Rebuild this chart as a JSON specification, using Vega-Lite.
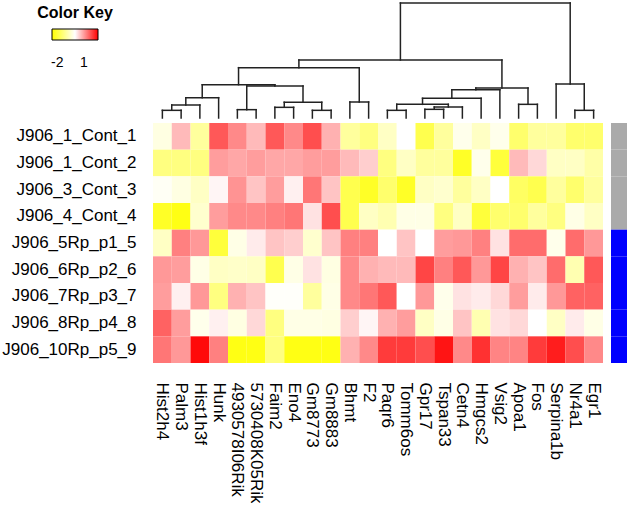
{
  "$schema": "https://vega.github.io/schema/vega-lite/v6.json",
  "padding": {"left": 1, "top": 1, "right": 1, "bottom": 0},
  "config": {"view": {"stroke": null}, "font": "Liberation Sans"},
  "columns": 2,
  "align": "each",
  "bounds": "flush",
  "spacing": {"row": 5, "column": 8},
  "resolve": {"scale": {"color": "independent"}, "legend": {"color": "independent"}},
  "datasets": {
    "dend": [
      {"x":0,"x2":1,"y":23,"y2":23},{"x":0,"x2":0,"y":0,"y2":23},{"x":1,"x2":1,"y":0,"y2":23},
      {"x":0.5,"x2":2,"y":39,"y2":39},{"x":0.5,"x2":0.5,"y":23,"y2":39},{"x":2,"x2":2,"y":0,"y2":39},
      {"x":1.25,"x2":3,"y":61,"y2":61},{"x":1.25,"x2":1.25,"y":39,"y2":61},{"x":3,"x2":3,"y":0,"y2":61},
      {"x":4,"x2":5,"y":25,"y2":25},{"x":4,"x2":4,"y":0,"y2":25},{"x":5,"x2":5,"y":0,"y2":25},
      {"x":6,"x2":7,"y":32,"y2":32},{"x":6,"x2":6,"y":0,"y2":32},{"x":7,"x2":7,"y":0,"y2":32},
      {"x":8,"x2":9,"y":23,"y2":23},{"x":8,"x2":8,"y":0,"y2":23},{"x":9,"x2":9,"y":0,"y2":23},
      {"x":6.5,"x2":8.5,"y":47,"y2":47},{"x":6.5,"x2":6.5,"y":32,"y2":47},{"x":8.5,"x2":8.5,"y":23,"y2":47},
      {"x":4.5,"x2":7.5,"y":96,"y2":96},{"x":4.5,"x2":4.5,"y":25,"y2":96},{"x":7.5,"x2":7.5,"y":47,"y2":96},
      {"x":2.125,"x2":6,"y":100,"y2":100},{"x":2.125,"x2":2.125,"y":61,"y2":100},{"x":6,"x2":6,"y":96,"y2":100},
      {"x":10,"x2":11,"y":48,"y2":48},{"x":10,"x2":10,"y":0,"y2":48},{"x":11,"x2":11,"y":0,"y2":48},
      {"x":4.0625,"x2":10.5,"y":151,"y2":151},{"x":4.0625,"x2":4.0625,"y":100,"y2":151},{"x":10.5,"x2":10.5,"y":48,"y2":151},
      {"x":12,"x2":13,"y":23,"y2":23},{"x":12,"x2":12,"y":0,"y2":23},{"x":13,"x2":13,"y":0,"y2":23},
      {"x":14,"x2":15,"y":26,"y2":26},{"x":14,"x2":14,"y":0,"y2":26},{"x":15,"x2":15,"y":0,"y2":26},
      {"x":14.5,"x2":16,"y":33,"y2":33},{"x":14.5,"x2":14.5,"y":26,"y2":33},{"x":16,"x2":16,"y":0,"y2":33},
      {"x":12.5,"x2":15.25,"y":41,"y2":41},{"x":12.5,"x2":12.5,"y":23,"y2":41},{"x":15.25,"x2":15.25,"y":33,"y2":41},
      {"x":13.875,"x2":17,"y":59,"y2":59},{"x":13.875,"x2":13.875,"y":41,"y2":59},{"x":17,"x2":17,"y":0,"y2":59},
      {"x":15.4375,"x2":18,"y":85,"y2":85},{"x":15.4375,"x2":15.4375,"y":59,"y2":85},{"x":18,"x2":18,"y":0,"y2":85},
      {"x":19,"x2":20,"y":41,"y2":41},{"x":19,"x2":19,"y":0,"y2":41},{"x":20,"x2":20,"y":0,"y2":41},
      {"x":16.71875,"x2":19.5,"y":90,"y2":90},{"x":16.71875,"x2":16.71875,"y":85,"y2":90},{"x":19.5,"x2":19.5,"y":41,"y2":90},
      {"x":7.28125,"x2":18.109375,"y":174,"y2":174},{"x":7.28125,"x2":7.28125,"y":151,"y2":174},{"x":18.109375,"x2":18.109375,"y":90,"y2":174},
      {"x":22,"x2":23,"y":23,"y2":23},{"x":22,"x2":22,"y":0,"y2":23},{"x":23,"x2":23,"y":0,"y2":23},
      {"x":21,"x2":22.5,"y":102,"y2":102},{"x":21,"x2":21,"y":0,"y2":102},{"x":22.5,"x2":22.5,"y":23,"y2":102},
      {"x":12.6953,"x2":21.75,"y":345,"y2":345},{"x":12.6953,"x2":12.6953,"y":174,"y2":345},{"x":21.75,"x2":21.75,"y":102,"y2":345}
    ],
    "side": [
      {"sample":"J906_1_Cont_1","group":"Cont"},
      {"sample":"J906_1_Cont_2","group":"Cont"},
      {"sample":"J906_3_Cont_3","group":"Cont"},
      {"sample":"J906_4_Cont_4","group":"Cont"},
      {"sample":"J906_5Rp_p1_5","group":"Rp"},
      {"sample":"J906_6Rp_p2_6","group":"Rp"},
      {"sample":"J906_7Rp_p3_7","group":"Rp"},
      {"sample":"J906_8Rp_p4_8","group":"Rp"},
      {"sample":"J906_10Rp_p5_9","group":"Rp"}
    ],
    "cells": [
      {"sample":"J906_1_Cont_1","gene":"Hist2h4","value":-0.3},
      {"sample":"J906_1_Cont_1","gene":"Palm3","value":0.7},
      {"sample":"J906_1_Cont_1","gene":"Hist1h3f","value":-1.0},
      {"sample":"J906_1_Cont_1","gene":"Hunk","value":1.7},
      {"sample":"J906_1_Cont_1","gene":"4930578I06Rik","value":1.2},
      {"sample":"J906_1_Cont_1","gene":"5730408K05Rik","value":0.7},
      {"sample":"J906_1_Cont_1","gene":"Faim2","value":1.7},
      {"sample":"J906_1_Cont_1","gene":"Eno4","value":1.2},
      {"sample":"J906_1_Cont_1","gene":"Gm8773","value":1.8},
      {"sample":"J906_1_Cont_1","gene":"Gm8883","value":0.8},
      {"sample":"J906_1_Cont_1","gene":"Bhmt","value":-1.0},
      {"sample":"J906_1_Cont_1","gene":"F2","value":-1.3},
      {"sample":"J906_1_Cont_1","gene":"Paqr6","value":-0.6},
      {"sample":"J906_1_Cont_1","gene":"Tomm6os","value":0},
      {"sample":"J906_1_Cont_1","gene":"Gpr17","value":-1.8},
      {"sample":"J906_1_Cont_1","gene":"Tspan33","value":-1.0},
      {"sample":"J906_1_Cont_1","gene":"Cetn4","value":-0.2},
      {"sample":"J906_1_Cont_1","gene":"Hmgcs2","value":-0.6},
      {"sample":"J906_1_Cont_1","gene":"Vsig2","value":-0.2},
      {"sample":"J906_1_Cont_1","gene":"Apoa1","value":-1.5},
      {"sample":"J906_1_Cont_1","gene":"Fos","value":-1.0},
      {"sample":"J906_1_Cont_1","gene":"Serpina1b","value":-1.0},
      {"sample":"J906_1_Cont_1","gene":"Nr4a1","value":-1.5},
      {"sample":"J906_1_Cont_1","gene":"Egr1","value":-1.5},

      {"sample":"J906_1_Cont_2","gene":"Hist2h4","value":-1.3},
      {"sample":"J906_1_Cont_2","gene":"Palm3","value":-1.3},
      {"sample":"J906_1_Cont_2","gene":"Hist1h3f","value":-1.3},
      {"sample":"J906_1_Cont_2","gene":"Hunk","value":1.0},
      {"sample":"J906_1_Cont_2","gene":"4930578I06Rik","value":0.9},
      {"sample":"J906_1_Cont_2","gene":"5730408K05Rik","value":1.0},
      {"sample":"J906_1_Cont_2","gene":"Faim2","value":0.9},
      {"sample":"J906_1_Cont_2","gene":"Eno4","value":0.9},
      {"sample":"J906_1_Cont_2","gene":"Gm8773","value":1.0},
      {"sample":"J906_1_Cont_2","gene":"Gm8883","value":1.0},
      {"sample":"J906_1_Cont_2","gene":"Bhmt","value":0.7},
      {"sample":"J906_1_Cont_2","gene":"F2","value":0.5},
      {"sample":"J906_1_Cont_2","gene":"Paqr6","value":-1.3},
      {"sample":"J906_1_Cont_2","gene":"Tomm6os","value":-0.6},
      {"sample":"J906_1_Cont_2","gene":"Gpr17","value":-1.0},
      {"sample":"J906_1_Cont_2","gene":"Tspan33","value":-1.0},
      {"sample":"J906_1_Cont_2","gene":"Cetn4","value":-2.2},
      {"sample":"J906_1_Cont_2","gene":"Hmgcs2","value":-0.2},
      {"sample":"J906_1_Cont_2","gene":"Vsig2","value":-2.0},
      {"sample":"J906_1_Cont_2","gene":"Apoa1","value":0.7},
      {"sample":"J906_1_Cont_2","gene":"Fos","value":0.4},
      {"sample":"J906_1_Cont_2","gene":"Serpina1b","value":-0.6},
      {"sample":"J906_1_Cont_2","gene":"Nr4a1","value":-0.6},
      {"sample":"J906_1_Cont_2","gene":"Egr1","value":-0.9},

      {"sample":"J906_3_Cont_3","gene":"Hist2h4","value":-0.1},
      {"sample":"J906_3_Cont_3","gene":"Palm3","value":-0.3},
      {"sample":"J906_3_Cont_3","gene":"Hist1h3f","value":-0.6},
      {"sample":"J906_3_Cont_3","gene":"Hunk","value":0.1},
      {"sample":"J906_3_Cont_3","gene":"4930578I06Rik","value":1.1},
      {"sample":"J906_3_Cont_3","gene":"5730408K05Rik","value":0.6},
      {"sample":"J906_3_Cont_3","gene":"Faim2","value":1.0},
      {"sample":"J906_3_Cont_3","gene":"Eno4","value":0.15},
      {"sample":"J906_3_Cont_3","gene":"Gm8773","value":1.4},
      {"sample":"J906_3_Cont_3","gene":"Gm8883","value":0.6},
      {"sample":"J906_3_Cont_3","gene":"Bhmt","value":-1.8},
      {"sample":"J906_3_Cont_3","gene":"F2","value":-2.2},
      {"sample":"J906_3_Cont_3","gene":"Paqr6","value":-1.5},
      {"sample":"J906_3_Cont_3","gene":"Tomm6os","value":-2.2},
      {"sample":"J906_3_Cont_3","gene":"Gpr17","value":-0.6},
      {"sample":"J906_3_Cont_3","gene":"Tspan33","value":-0.5},
      {"sample":"J906_3_Cont_3","gene":"Cetn4","value":-1.0},
      {"sample":"J906_3_Cont_3","gene":"Hmgcs2","value":-0.6},
      {"sample":"J906_3_Cont_3","gene":"Vsig2","value":0},
      {"sample":"J906_3_Cont_3","gene":"Apoa1","value":-1.6},
      {"sample":"J906_3_Cont_3","gene":"Fos","value":-1.8},
      {"sample":"J906_3_Cont_3","gene":"Serpina1b","value":-1.0},
      {"sample":"J906_3_Cont_3","gene":"Nr4a1","value":-1.5},
      {"sample":"J906_3_Cont_3","gene":"Egr1","value":-1.0},

      {"sample":"J906_4_Cont_4","gene":"Hist2h4","value":-2.2},
      {"sample":"J906_4_Cont_4","gene":"Palm3","value":-2.4},
      {"sample":"J906_4_Cont_4","gene":"Hist1h3f","value":-0.5},
      {"sample":"J906_4_Cont_4","gene":"Hunk","value":1.0},
      {"sample":"J906_4_Cont_4","gene":"4930578I06Rik","value":1.2},
      {"sample":"J906_4_Cont_4","gene":"5730408K05Rik","value":1.2},
      {"sample":"J906_4_Cont_4","gene":"Faim2","value":1.3},
      {"sample":"J906_4_Cont_4","gene":"Eno4","value":1.4},
      {"sample":"J906_4_Cont_4","gene":"Gm8773","value":0.3},
      {"sample":"J906_4_Cont_4","gene":"Gm8883","value":1.8},
      {"sample":"J906_4_Cont_4","gene":"Bhmt","value":-1.8},
      {"sample":"J906_4_Cont_4","gene":"F2","value":-0.6},
      {"sample":"J906_4_Cont_4","gene":"Paqr6","value":-0.8},
      {"sample":"J906_4_Cont_4","gene":"Tomm6os","value":-0.25},
      {"sample":"J906_4_Cont_4","gene":"Gpr17","value":-0.25},
      {"sample":"J906_4_Cont_4","gene":"Tspan33","value":-1.3},
      {"sample":"J906_4_Cont_4","gene":"Cetn4","value":-0.6},
      {"sample":"J906_4_Cont_4","gene":"Hmgcs2","value":-2.0},
      {"sample":"J906_4_Cont_4","gene":"Vsig2","value":-1.5},
      {"sample":"J906_4_Cont_4","gene":"Apoa1","value":-1.5},
      {"sample":"J906_4_Cont_4","gene":"Fos","value":-1.0},
      {"sample":"J906_4_Cont_4","gene":"Serpina1b","value":-1.3},
      {"sample":"J906_4_Cont_4","gene":"Nr4a1","value":-0.25},
      {"sample":"J906_4_Cont_4","gene":"Egr1","value":-0.6},

      {"sample":"J906_5Rp_p1_5","gene":"Hist2h4","value":-0.6},
      {"sample":"J906_5Rp_p1_5","gene":"Palm3","value":1.3},
      {"sample":"J906_5Rp_p1_5","gene":"Hist1h3f","value":1.05},
      {"sample":"J906_5Rp_p1_5","gene":"Hunk","value":-2.0},
      {"sample":"J906_5Rp_p1_5","gene":"4930578I06Rik","value":-0.25},
      {"sample":"J906_5Rp_p1_5","gene":"5730408K05Rik","value":0.2},
      {"sample":"J906_5Rp_p1_5","gene":"Faim2","value":0.6},
      {"sample":"J906_5Rp_p1_5","gene":"Eno4","value":0.5},
      {"sample":"J906_5Rp_p1_5","gene":"Gm8773","value":-0.5},
      {"sample":"J906_5Rp_p1_5","gene":"Gm8883","value":0.6},
      {"sample":"J906_5Rp_p1_5","gene":"Bhmt","value":1.3},
      {"sample":"J906_5Rp_p1_5","gene":"F2","value":1.3},
      {"sample":"J906_5Rp_p1_5","gene":"Paqr6","value":0},
      {"sample":"J906_5Rp_p1_5","gene":"Tomm6os","value":0.6},
      {"sample":"J906_5Rp_p1_5","gene":"Gpr17","value":0},
      {"sample":"J906_5Rp_p1_5","gene":"Tspan33","value":1.0},
      {"sample":"J906_5Rp_p1_5","gene":"Cetn4","value":1.05},
      {"sample":"J906_5Rp_p1_5","gene":"Hmgcs2","value":1.3},
      {"sample":"J906_5Rp_p1_5","gene":"Vsig2","value":0.3},
      {"sample":"J906_5Rp_p1_5","gene":"Apoa1","value":1.5},
      {"sample":"J906_5Rp_p1_5","gene":"Fos","value":1.5},
      {"sample":"J906_5Rp_p1_5","gene":"Serpina1b","value":-0.2},
      {"sample":"J906_5Rp_p1_5","gene":"Nr4a1","value":1.5},
      {"sample":"J906_5Rp_p1_5","gene":"Egr1","value":1.05},

      {"sample":"J906_6Rp_p2_6","gene":"Hist2h4","value":1.05},
      {"sample":"J906_6Rp_p2_6","gene":"Palm3","value":1.0},
      {"sample":"J906_6Rp_p2_6","gene":"Hist1h3f","value":-0.25},
      {"sample":"J906_6Rp_p2_6","gene":"Hunk","value":-0.6},
      {"sample":"J906_6Rp_p2_6","gene":"4930578I06Rik","value":-0.55},
      {"sample":"J906_6Rp_p2_6","gene":"5730408K05Rik","value":-0.6},
      {"sample":"J906_6Rp_p2_6","gene":"Faim2","value":-1.8},
      {"sample":"J906_6Rp_p2_6","gene":"Eno4","value":-0.25},
      {"sample":"J906_6Rp_p2_6","gene":"Gm8773","value":0.3},
      {"sample":"J906_6Rp_p2_6","gene":"Gm8883","value":-0.3},
      {"sample":"J906_6Rp_p2_6","gene":"Bhmt","value":1.2},
      {"sample":"J906_6Rp_p2_6","gene":"F2","value":0.8},
      {"sample":"J906_6Rp_p2_6","gene":"Paqr6","value":0.7},
      {"sample":"J906_6Rp_p2_6","gene":"Tomm6os","value":0.7},
      {"sample":"J906_6Rp_p2_6","gene":"Gpr17","value":1.9},
      {"sample":"J906_6Rp_p2_6","gene":"Tspan33","value":1.3},
      {"sample":"J906_6Rp_p2_6","gene":"Cetn4","value":1.7},
      {"sample":"J906_6Rp_p2_6","gene":"Hmgcs2","value":1.05},
      {"sample":"J906_6Rp_p2_6","gene":"Vsig2","value":1.9},
      {"sample":"J906_6Rp_p2_6","gene":"Apoa1","value":0.8},
      {"sample":"J906_6Rp_p2_6","gene":"Fos","value":0.6},
      {"sample":"J906_6Rp_p2_6","gene":"Serpina1b","value":1.5},
      {"sample":"J906_6Rp_p2_6","gene":"Nr4a1","value":-0.8},
      {"sample":"J906_6Rp_p2_6","gene":"Egr1","value":1.7},

      {"sample":"J906_7Rp_p3_7","gene":"Hist2h4","value":1.0},
      {"sample":"J906_7Rp_p3_7","gene":"Palm3","value":0.15},
      {"sample":"J906_7Rp_p3_7","gene":"Hist1h3f","value":1.05},
      {"sample":"J906_7Rp_p3_7","gene":"Hunk","value":-1.3},
      {"sample":"J906_7Rp_p3_7","gene":"4930578I06Rik","value":0.8},
      {"sample":"J906_7Rp_p3_7","gene":"5730408K05Rik","value":0.6},
      {"sample":"J906_7Rp_p3_7","gene":"Faim2","value":-0.05},
      {"sample":"J906_7Rp_p3_7","gene":"Eno4","value":-0.05},
      {"sample":"J906_7Rp_p3_7","gene":"Gm8773","value":-1.0},
      {"sample":"J906_7Rp_p3_7","gene":"Gm8883","value":-0.25},
      {"sample":"J906_7Rp_p3_7","gene":"Bhmt","value":1.2},
      {"sample":"J906_7Rp_p3_7","gene":"F2","value":1.4},
      {"sample":"J906_7Rp_p3_7","gene":"Paqr6","value":1.7},
      {"sample":"J906_7Rp_p3_7","gene":"Tomm6os","value":0},
      {"sample":"J906_7Rp_p3_7","gene":"Gpr17","value":1.05},
      {"sample":"J906_7Rp_p3_7","gene":"Tspan33","value":-0.2},
      {"sample":"J906_7Rp_p3_7","gene":"Cetn4","value":0.3},
      {"sample":"J906_7Rp_p3_7","gene":"Hmgcs2","value":0.2},
      {"sample":"J906_7Rp_p3_7","gene":"Vsig2","value":0.4},
      {"sample":"J906_7Rp_p3_7","gene":"Apoa1","value":1.0},
      {"sample":"J906_7Rp_p3_7","gene":"Fos","value":0.2},
      {"sample":"J906_7Rp_p3_7","gene":"Serpina1b","value":1.05},
      {"sample":"J906_7Rp_p3_7","gene":"Nr4a1","value":1.6},
      {"sample":"J906_7Rp_p3_7","gene":"Egr1","value":1.6},

      {"sample":"J906_8Rp_p4_8","gene":"Hist2h4","value":1.6},
      {"sample":"J906_8Rp_p4_8","gene":"Palm3","value":1.0},
      {"sample":"J906_8Rp_p4_8","gene":"Hist1h3f","value":-0.2},
      {"sample":"J906_8Rp_p4_8","gene":"Hunk","value":0.15},
      {"sample":"J906_8Rp_p4_8","gene":"4930578I06Rik","value":-0.3},
      {"sample":"J906_8Rp_p4_8","gene":"5730408K05Rik","value":0.4},
      {"sample":"J906_8Rp_p4_8","gene":"Faim2","value":-1.3},
      {"sample":"J906_8Rp_p4_8","gene":"Eno4","value":-0.25},
      {"sample":"J906_8Rp_p4_8","gene":"Gm8773","value":-0.25},
      {"sample":"J906_8Rp_p4_8","gene":"Gm8883","value":-0.3},
      {"sample":"J906_8Rp_p4_8","gene":"Bhmt","value":0.5},
      {"sample":"J906_8Rp_p4_8","gene":"F2","value":0.1},
      {"sample":"J906_8Rp_p4_8","gene":"Paqr6","value":0.8},
      {"sample":"J906_8Rp_p4_8","gene":"Tomm6os","value":1.0},
      {"sample":"J906_8Rp_p4_8","gene":"Gpr17","value":-0.6},
      {"sample":"J906_8Rp_p4_8","gene":"Tspan33","value":-0.25},
      {"sample":"J906_8Rp_p4_8","gene":"Cetn4","value":0.6},
      {"sample":"J906_8Rp_p4_8","gene":"Hmgcs2","value":-0.8},
      {"sample":"J906_8Rp_p4_8","gene":"Vsig2","value":0.3},
      {"sample":"J906_8Rp_p4_8","gene":"Apoa1","value":0.4},
      {"sample":"J906_8Rp_p4_8","gene":"Fos","value":0},
      {"sample":"J906_8Rp_p4_8","gene":"Serpina1b","value":-0.6},
      {"sample":"J906_8Rp_p4_8","gene":"Nr4a1","value":0.2},
      {"sample":"J906_8Rp_p4_8","gene":"Egr1","value":-0.25},

      {"sample":"J906_10Rp_p5_9","gene":"Hist2h4","value":1.4},
      {"sample":"J906_10Rp_p5_9","gene":"Palm3","value":1.05},
      {"sample":"J906_10Rp_p5_9","gene":"Hist1h3f","value":2.5},
      {"sample":"J906_10Rp_p5_9","gene":"Hunk","value":1.3},
      {"sample":"J906_10Rp_p5_9","gene":"4930578I06Rik","value":-2.4},
      {"sample":"J906_10Rp_p5_9","gene":"5730408K05Rik","value":-2.4},
      {"sample":"J906_10Rp_p5_9","gene":"Faim2","value":-1.3},
      {"sample":"J906_10Rp_p5_9","gene":"Eno4","value":-2.4},
      {"sample":"J906_10Rp_p5_9","gene":"Gm8773","value":-2.4},
      {"sample":"J906_10Rp_p5_9","gene":"Gm8883","value":-2.4},
      {"sample":"J906_10Rp_p5_9","gene":"Bhmt","value":0.8},
      {"sample":"J906_10Rp_p5_9","gene":"F2","value":1.2},
      {"sample":"J906_10Rp_p5_9","gene":"Paqr6","value":2.0},
      {"sample":"J906_10Rp_p5_9","gene":"Tomm6os","value":2.0},
      {"sample":"J906_10Rp_p5_9","gene":"Gpr17","value":1.8},
      {"sample":"J906_10Rp_p5_9","gene":"Tspan33","value":2.4},
      {"sample":"J906_10Rp_p5_9","gene":"Cetn4","value":1.2},
      {"sample":"J906_10Rp_p5_9","gene":"Hmgcs2","value":2.1},
      {"sample":"J906_10Rp_p5_9","gene":"Vsig2","value":1.25},
      {"sample":"J906_10Rp_p5_9","gene":"Apoa1","value":1.25},
      {"sample":"J906_10Rp_p5_9","gene":"Fos","value":2.0},
      {"sample":"J906_10Rp_p5_9","gene":"Serpina1b","value":2.3},
      {"sample":"J906_10Rp_p5_9","gene":"Nr4a1","value":1.8},
      {"sample":"J906_10Rp_p5_9","gene":"Egr1","value":1.2}
    ]
  },
  "concat": [
    {
      "width": 450,
      "height": 115,
      "data": {"name": "dend"},
      "mark": {"type": "rule", "color": "#222222", "strokeWidth": 1.5, "strokeCap": "square"},
      "encoding": {
        "x": {"field": "x", "type": "quantitative", "scale": {"domain": [-0.5, 23.5], "nice": false, "zero": false}, "axis": null},
        "x2": {"field": "x2"},
        "y": {"field": "y", "type": "quantitative", "scale": {"domain": [0, 345], "nice": false}, "axis": null},
        "y2": {"field": "y2"}
      }
    },
    {
      "width": 16,
      "height": 115,
      "data": {"values": []},
      "mark": "rule",
      "encoding": {}
    },
    {
      "width": 450,
      "height": 240,
      "data": {"name": "cells"},
      "mark": {"type": "rect"},
      "encoding": {
        "x": {
          "field": "gene", "type": "nominal",
          "sort": ["Hist2h4","Palm3","Hist1h3f","Hunk","4930578I06Rik","5730408K05Rik","Faim2","Eno4","Gm8773","Gm8883","Bhmt","F2","Paqr6","Tomm6os","Gpr17","Tspan33","Cetn4","Hmgcs2","Vsig2","Apoa1","Fos","Serpina1b","Nr4a1","Egr1"],
          "scale": {"paddingInner": 0, "paddingOuter": 0},
          "axis": {"title": null, "orient": "bottom", "labelAngle": 90, "ticks": false, "domain": false, "labelPadding": 19, "labelFontSize": 17, "labelColor": "#000000", "labelOverlap": false, "labelLimit": 0}
        },
        "y": {
          "field": "sample", "type": "nominal",
          "sort": ["J906_1_Cont_1","J906_1_Cont_2","J906_3_Cont_3","J906_4_Cont_4","J906_5Rp_p1_5","J906_6Rp_p2_6","J906_7Rp_p3_7","J906_8Rp_p4_8","J906_10Rp_p5_9"],
          "scale": {"paddingInner": 0, "paddingOuter": 0},
          "axis": {"title": null, "ticks": false, "domain": false, "labelPadding": 17, "labelFontSize": 17, "labelColor": "#000000", "labelLimit": 0, "labelOverlap": false}
        },
        "color": {
          "field": "value", "type": "quantitative",
          "scale": {"domain": [-2.6, 0, 2.6], "range": ["#FFFF00", "#FFFFFF", "#FF0000"], "interpolate": "rgb"},
          "legend": {
            "orient": "none", "legendX": -116, "legendY": -118, "padding": 0,
            "direction": "horizontal", "title": "Color Key", "titleFontSize": 16, "titleFontWeight": "bold",
            "titleColor": "#000000", "titleAnchor": "middle", "titlePadding": 8,
            "gradientLength": 46, "gradientThickness": 11, "gradientStrokeColor": "#000000", "gradientStrokeWidth": 1,
            "values": [-2, 1], "labelExpr": "replace(datum.label, '\u2212', '-')",
            "labelFontSize": 14, "labelColor": "#000000", "labelOffset": 16
          }
        }
      }
    },
    {
      "width": 16,
      "height": 240,
      "data": {"name": "side"},
      "mark": {"type": "rect"},
      "encoding": {
        "y": {
          "field": "sample", "type": "nominal",
          "sort": ["J906_1_Cont_1","J906_1_Cont_2","J906_3_Cont_3","J906_4_Cont_4","J906_5Rp_p1_5","J906_6Rp_p2_6","J906_7Rp_p3_7","J906_8Rp_p4_8","J906_10Rp_p5_9"],
          "scale": {"paddingInner": 0, "paddingOuter": 0},
          "axis": null
        },
        "color": {
          "field": "group", "type": "nominal",
          "scale": {"domain": ["Cont", "Rp"], "range": ["#AAAAAA", "#0000FF"]},
          "legend": null
        }
      }
    }
  ]
}
